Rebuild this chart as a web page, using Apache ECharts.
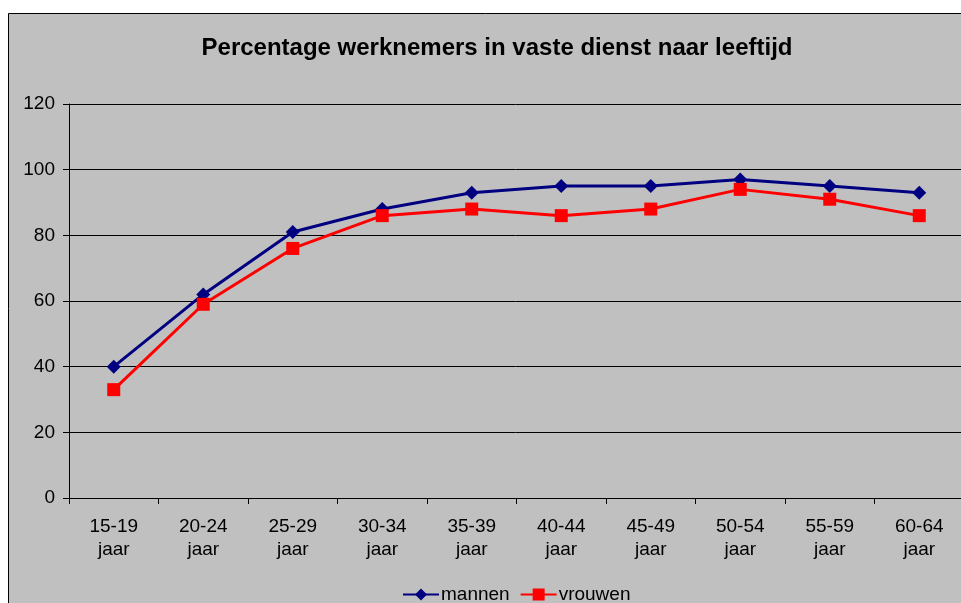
<!DOCTYPE html>
<html>
<head>
<meta charset="utf-8">
<script src="https://cdn.jsdelivr.net/npm/echarts@6/dist/echarts.min.js"></script>
<style>
  html, body { margin: 0; padding: 0; background: #fff; }
  #chart { width: 961px; height: 603px; }
</style>
</head>
<body>
<div id="chart"></div>
<script>
var categories = ['15-19\njaar', '20-24\njaar', '25-29\njaar', '30-34\njaar', '35-39\njaar',
  '40-44\njaar', '45-49\njaar', '50-54\njaar', '55-59\njaar', '60-64\njaar']
var mannen = [40, 62, 81, 88, 93, 95, 95, 97, 95, 93]
var vrouwen = [33, 59, 76, 86, 88, 86, 88, 94, 91, 86]

var chart = echarts.init(document.getElementById('chart'))
var font = 'Arial, "Liberation Sans", sans-serif'

chart.setOption({
  animation: false,
  textStyle: { fontFamily: font },
  graphic: [
    {
      type: 'rect',
      z: -10,
      shape: { x: 8.5, y: 13.5, width: 980, height: 620 },
      style: { fill: '#c0c0c0', stroke: '#000', lineWidth: 1 }
    }
  ],
  title: {
    text: 'Percentage werknemers in vaste dienst naar leeftijd',
    left: 492,
    textAlign: 'center',
    top: 31,
    textStyle: { fontSize: 24, fontWeight: 'bold', color: '#000', fontFamily: font }
  },
  legend: {
    bottom: -6,
    left: 397,
    itemWidth: 36,
    itemHeight: 15,
    itemGap: 10,
    textStyle: { fontSize: 19, color: '#000', fontFamily: font, padding: [0, 0, 0, -3] },
    data: ['mannen', 'vrouwen']
  },
  grid: {
    left: 69,
    top: 104,
    width: 895,
    height: 394,
    outerBoundsMode: 'none',
    containLabel: false
  },
  xAxis: {
    type: 'category',
    data: categories,
    boundaryGap: true,
    axisLine: { lineStyle: { color: '#000', width: 1 } },
    axisTick: { show: true, length: 6, lineStyle: { color: '#000' } },
    axisLabel: { fontSize: 19, color: '#000', lineHeight: 23, margin: 17, fontFamily: font },
    splitLine: { show: false }
  },
  yAxis: {
    type: 'value',
    min: 0,
    max: 120,
    interval: 20,
    axisLine: { show: true, lineStyle: { color: '#000', width: 1 } },
    axisTick: { show: true, length: 6, lineStyle: { color: '#000' } },
    axisLabel: { fontSize: 19, color: '#000', margin: 14, fontFamily: font },
    splitLine: { show: true, lineStyle: { color: '#000', width: 1 } }
  },
  series: [
    {
      name: 'mannen',
      type: 'line',
      data: mannen,
      symbol: 'diamond',
      symbolSize: 14,
      itemStyle: { color: '#000080' },
      lineStyle: { color: '#000080', width: 3 }
    },
    {
      name: 'vrouwen',
      type: 'line',
      data: vrouwen,
      symbol: 'rect',
      symbolSize: 13,
      itemStyle: { color: '#ff0000' },
      lineStyle: { color: '#ff0000', width: 3 }
    }
  ]
})
</script>
</body>
</html>
